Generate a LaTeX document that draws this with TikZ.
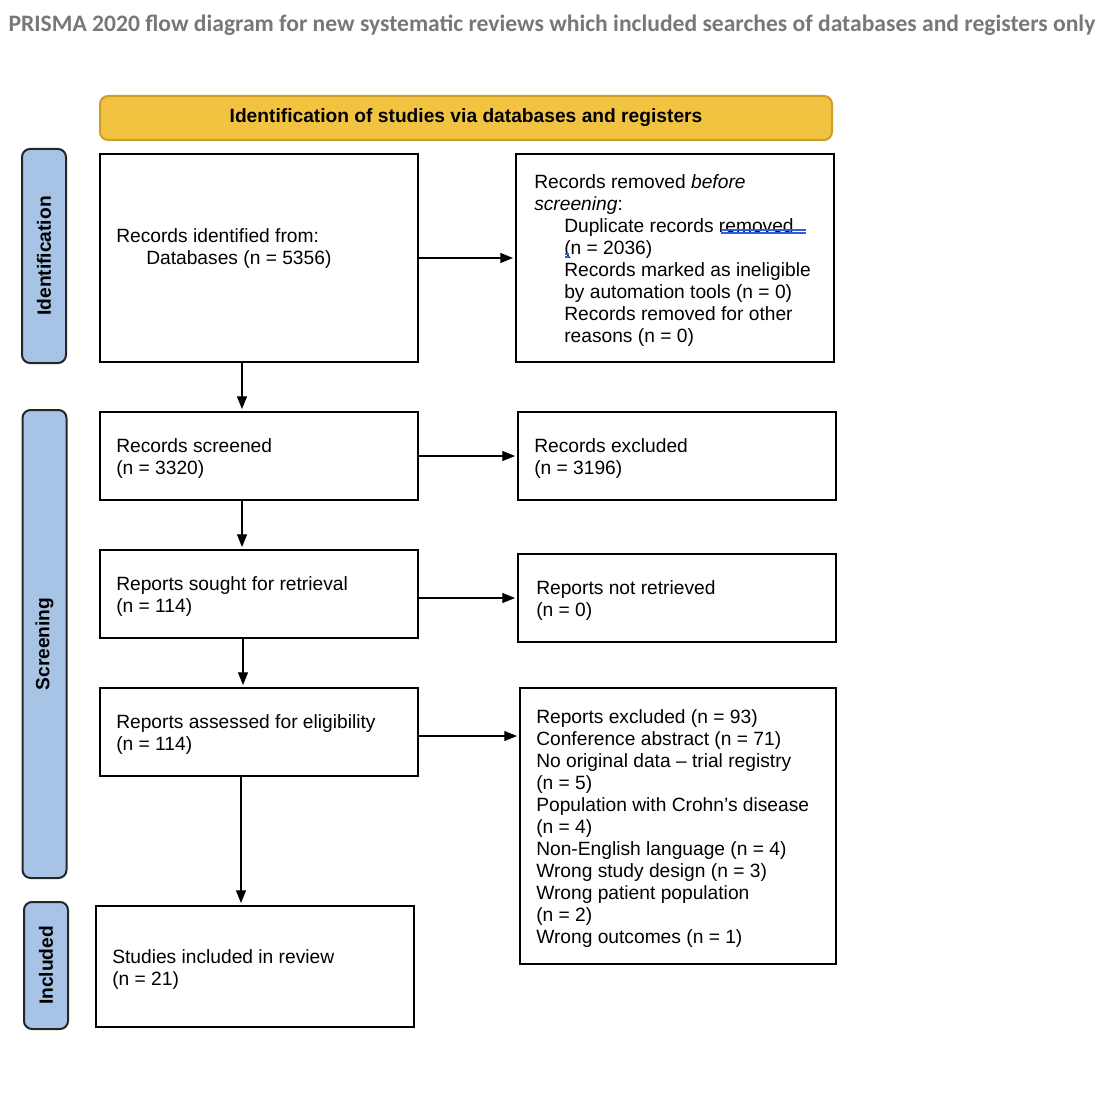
\documentclass[tikz,border=0pt]{standalone}
\usepackage{graphicx}
\usepackage{fontspec}
\setmainfont{Liberation Sans}
\newfontfamily\titlefont{Carlito}
\usetikzlibrary{arrows.meta,calc}
\definecolor{hdrfill}{RGB}{242,195,64}
\definecolor{hdrline}{RGB}{205,158,40}
\definecolor{sidefill}{RGB}{167,195,229}
\definecolor{titlegray}{RGB}{120,120,120}
\definecolor{spell}{RGB}{50,95,210}
\begin{document}
\begin{tikzpicture}[x=0.75pt,y=-0.75pt,
  box/.style={draw=black, line width=1.5pt, rectangle, inner sep=0pt, minimum width=238.5pt},
  txt/.style={align=left, inner sep=0pt, font=\fontsize{14.4pt}{16.5pt}\selectfont, anchor=west},
  side/.style={draw=black!85, line width=1.5pt, fill=sidefill, rounded corners=6pt, inner sep=0pt,
    rotate=90, minimum height=33pt, font=\bfseries\fontsize{14.4pt}{16.5pt}\selectfont},
  arr/.style={line width=0.8pt, shorten >=1.5pt, -{Triangle[length=9.5pt,width=7.5pt]}},
  spellline/.style={draw=spell, line width=0.8pt}]

\useasboundingbox (0,0) rectangle (1120,1102);

% title
\node[inner sep=0pt] (title) at (552,25)
  {\resizebox{815pt}{!}{\titlefont\bfseries\color{titlegray}PRISMA 2020 flow diagram for new systematic reviews which included searches of databases and registers only}};

% header
\node[draw=hdrline, fill=hdrfill, line width=1.5pt, rounded corners=6pt, inner sep=0pt,
      minimum width=549pt, minimum height=33pt,
      font=\bfseries\fontsize{14.4pt}{16.5pt}\selectfont] (hdr) at (466,118)
  {Identification of studies via databases and registers};

% side labels
\node[side, minimum width=160.5pt] (sideId) at (44,256) {Identification};
\node[side, minimum width=351pt] (sideSc) at (44.5,644) {Screening};
\node[side, minimum width=95.25pt] (sideIn) at (46,965.5) {Included};

% boxes
\node[box, minimum height=156pt] (A) at (259,258) {};
\node[box, minimum height=156pt] (B) at (675,258) {};
\node[box, minimum height=66pt] (C) at (259,456) {};
\node[box, minimum height=66pt] (D) at (677,456) {};
\node[box, minimum height=66pt] (E) at (259,594) {};
\node[box, minimum height=66pt] (F) at (677,598) {};
\node[box, minimum height=66pt] (G) at (259,732) {};
\node[box, minimum width=237pt, minimum height=207pt] (H) at (678,826) {};
\node[box, minimum height=90.75pt] (I) at (255,966.5) {};

% texts
\node[txt] (At) at ([xshift=12.75pt,yshift=7pt]A.west)
  {Records identified from:\\\hspace*{22.5pt}Databases (n = 5356)};
\node[txt] (Bt) at ([xshift=14.25pt,yshift=-2pt]B.west)
  {Records removed \textit{before}\\
   \textit{screening}:\\
   \hspace*{22.5pt}Duplicate records removed\\
   \hspace*{22.5pt}(n = 2036)\\
   \hspace*{22.5pt}Records marked as ineligible\\
   \hspace*{22.5pt}by automation tools (n = 0)\\
   \hspace*{22.5pt}Records removed for other\\
   \hspace*{22.5pt}reasons (n = 0)};
\node[txt] (Ct) at ([xshift=12.75pt,yshift=-2pt]C.west) {Records screened\\(n = 3320)};
\node[txt] (Dt) at ([xshift=12.75pt,yshift=-2pt]D.west) {Records excluded\\(n = 3196)};
\node[txt] (Et) at ([xshift=12.75pt,yshift=-2pt]E.west) {Reports sought for retrieval\\(n = 114)};
\node[txt] (Ft) at ([xshift=14.25pt,yshift=-2pt]F.west) {Reports not retrieved\\(n = 0)};
\node[txt] (Gt) at ([xshift=12.75pt,yshift=-2pt]G.west) {Reports assessed for eligibility\\(n = 114)};
\node[txt] (Ht) at ([xshift=12.75pt,yshift=-2pt]H.west)
  {Reports excluded (n = 93)\\
   Conference abstract (n = 71)\\
   No original data – trial registry\\
   (n = 5)\\
   Population with Crohn’s disease\\
   (n = 4)\\
   Non-English language (n = 4)\\
   Wrong study design (n = 3)\\
   Wrong patient population\\
   (n = 2)\\
   Wrong outcomes (n = 1)};
\node[txt] (It) at ([xshift=12.75pt,yshift=-2pt]I.west) {Studies included in review\\(n = 21)};

% spell-check underline marks
\draw[spellline] (721,230) -- (806,230);
\draw[spellline] (721,233) -- (806,233);
\draw[spellline] (565,254) -- (569,254);
\draw[spellline] (565,257) -- (569,257);

% connectors
\draw[arr] (A.east) -- (B.west);
\draw[arr] ([xshift=-12.75pt]A.south) -- ([xshift=-12.75pt]A.south |- C.north);
\draw[arr] (C.east) -- (D.west);
\draw[arr] ([xshift=-12.75pt]C.south) -- ([xshift=-12.75pt]C.south |- E.north);
\draw[arr] (E.east |- F.west) -- (F.west);
\draw[arr] ([xshift=-12pt]E.south) -- ([xshift=-12pt]E.south |- G.north);
\draw[arr] ([yshift=-3pt]G.east) -- ([yshift=-3pt]G.east -| H.west);
\draw[arr] ([xshift=-13.5pt]G.south) -- ([xshift=-13.5pt]G.south |- I.north);
\end{tikzpicture}
\end{document}
